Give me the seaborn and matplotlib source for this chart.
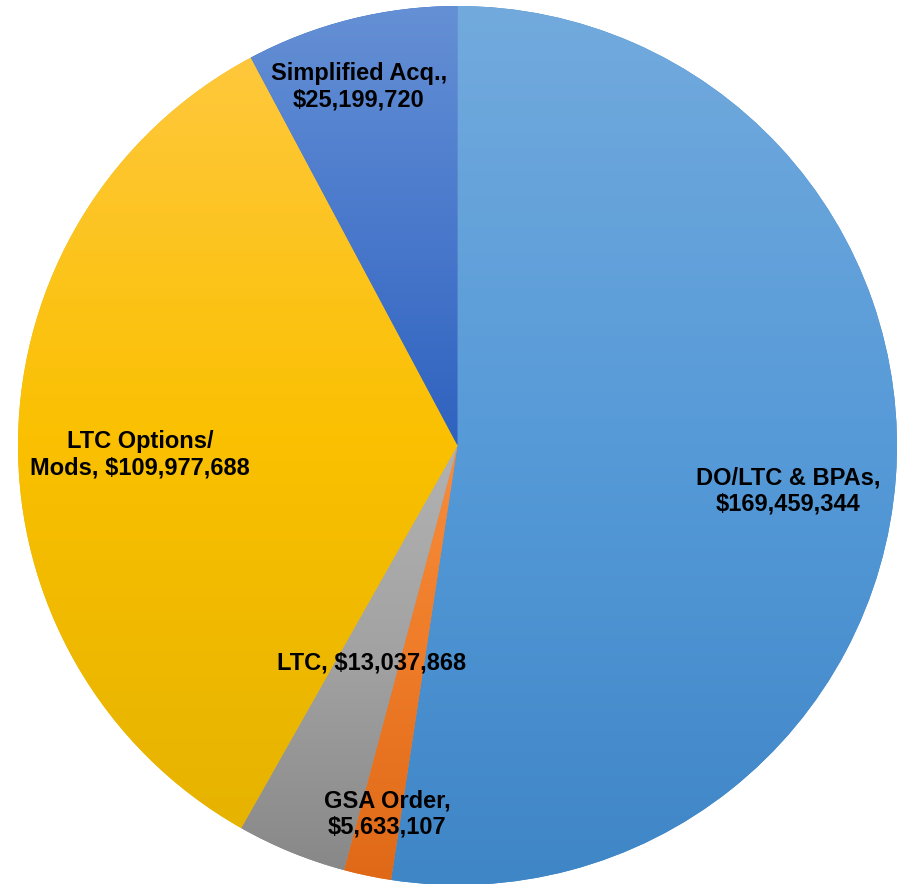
import numpy as np
import matplotlib
matplotlib.use("Agg")
import matplotlib.pyplot as plt
import seaborn as sns
from matplotlib.colors import LinearSegmentedColormap

sns.set_theme(style="white")
plt.rcParams['font.family'] = ['Liberation Sans', 'DejaVu Sans']

categories = ["DO/LTC & BPAs", "GSA Order", "LTC", "LTC Options/\nMods", "Simplified Acq."]
values = [169459344, 5633107, 13037868, 109977688, 25199720]
label_texts = ["DO/LTC & BPAs,\n$169,459,344", "GSA Order,\n$5,633,107", "LTC, $13,037,868",
               "LTC Options/\nMods, $109,977,688", "Simplified Acq.,\n$25,199,720"]
# gradient (top, middle, bottom colour) per slice
grad_colors = [["#72aadd", "#569ad8", "#3f86c7"],
               ["#f78d3c", "#ee7b28", "#df6916"],
               ["#b2b2b2", "#a2a2a2", "#888888"],
               ["#ffc83c", "#fac000", "#e6b300"],
               ["#6590d5", "#4a79cc", "#2f62bf"]]

W, H = 900, 884
cx, cy, R = 457.5, 445.5, 439.5

fig = plt.figure(figsize=(W / 100, H / 100), dpi=100)
ax = fig.add_axes([0, 0, 1, 1])
ax.set_xlim(-cx, W - cx)
ax.set_ylim(-(H - cy), cy)
ax.set_aspect('equal')
ax.axis('off')

wedges, _ = ax.pie(values, startangle=90, counterclock=False, radius=R,
                   colors=[g[2] for g in grad_colors], wedgeprops=dict(linewidth=0))

for w, cols in zip(wedges, grad_colors):
    bb = w.get_path().get_extents()
    cmap = LinearSegmentedColormap.from_list("g", cols)
    grad = np.linspace(0, 1, 256).reshape(-1, 1)
    im = ax.imshow(grad, cmap=cmap, aspect='auto',
                   extent=[bb.x0, bb.x1, bb.y0, bb.y1], origin='upper', zorder=2)
    im.set_clip_path(w)

# label centres in pixel offsets from the pie centre
label_pos = [(788, 491), (387, 814), (372, 663), (140, 455), (359, 87)]
for txt, (px, py) in zip(label_texts, label_pos):
    ax.text(px - cx, cy - py, txt, ha='center', va='center', fontsize=17,
            fontweight='bold', color='black', linespacing=1.18, zorder=5)

ax.set_xlim(-cx, W - cx)
ax.set_ylim(-(H - cy), cy)
fig.savefig("out.png", dpi=100)
